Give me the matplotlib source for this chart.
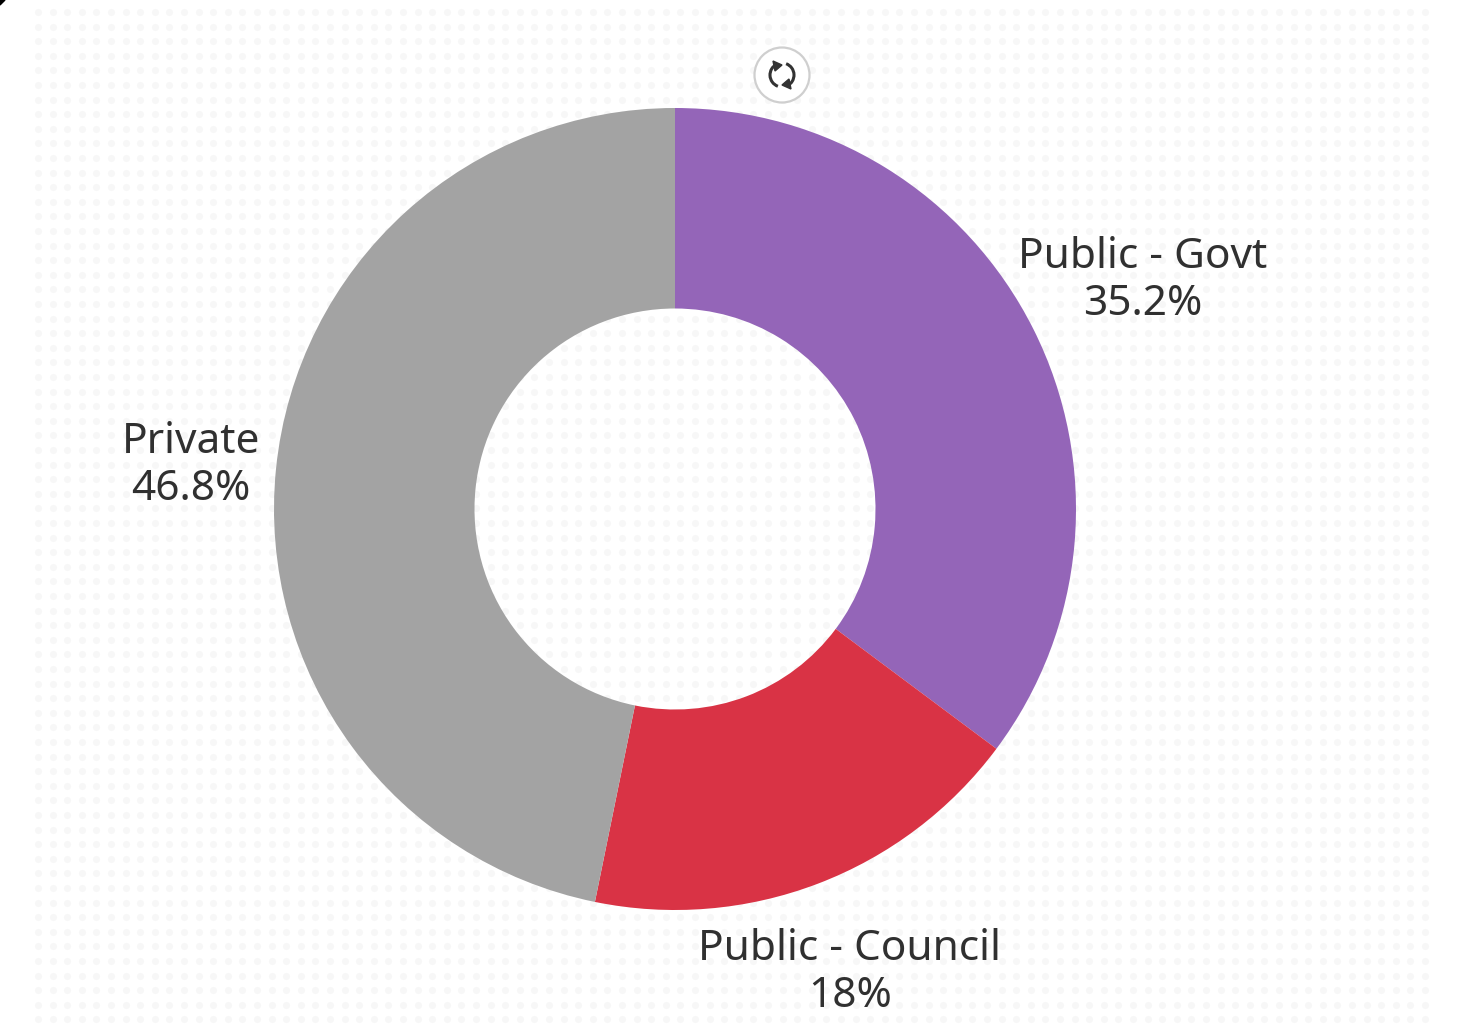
import matplotlib
matplotlib.use("Agg")
import matplotlib.pyplot as plt
from matplotlib.patches import Arc, Circle, Polygon
import numpy as np

W, H = 1457, 1033

segments = ["Public - Govt", "Public - Council", "Private"]
shares = [35.2, 18, 46.8]
share_labels = ["35.2%", "18%", "46.8%"]
colours = ["#9465B8", "#D93345", "#A3A3A3"]

plt.rcParams['font.family'] = ['Noto Sans', 'DejaVu Sans']

fig = plt.figure(figsize=(W / 100, H / 100), dpi=100, facecolor="white")

# calque en pixels pour le fond, le bouton et les textes
bg = fig.add_axes([0, 0, 1, 1], zorder=0)
bg.set_xlim(0, W)
bg.set_ylim(H, 0)
bg.axis("off")

# trame de points très pâle
gx, gy = np.meshgrid(np.arange(38, 1438, 14.6), np.arange(12, 1033, 14.6))
bg.scatter(gx.ravel(), gy.ravel(), s=26, color="#F7F7F7", linewidths=0, zorder=1)

# coin noir en haut à gauche
bg.add_patch(Polygon([(0, 0), (5, 0), (0, 5)], color="black", zorder=2))

# anneau
cx, cy, r = 675, 509, 401
ax = fig.add_axes([(cx - r) / W, 1 - (cy + r) / H, 2 * r / W, 2 * r / H], zorder=1)
ax.pie(shares, colors=colours, startangle=90, counterclock=False, radius=1,
       wedgeprops=dict(width=0.5, linewidth=0))
ax.set_xlim(-1, 1)
ax.set_ylim(-1, 1)
ax.set_aspect("equal")

# textes
top = fig.add_axes([0, 0, 1, 1], zorder=2)
top.set_xlim(0, W)
top.set_ylim(H, 0)
top.axis("off")
top.patch.set_alpha(0)

label_pos = [(1143, 280), (850, 972), (191, 465)]
for pos, seg, lab in zip(label_pos, segments, share_labels):
    top.text(pos[0], pos[1] - 23, seg, ha="center", va="center", fontsize=30.5, color="#303030")
    top.text(pos[0], pos[1] + 24, lab, ha="center", va="center", fontsize=30.5, color="#303030")

# bouton de rotation
bx, by = 782, 75
top.add_patch(Circle((bx, by), 27.5, facecolor="white", edgecolor="#CFCFCF", linewidth=1.6, zorder=3))
top.add_patch(Arc((bx, by), 24, 24, theta1=110, theta2=245, color="#333333", linewidth=2.2, zorder=4))
top.add_patch(Arc((bx, by), 24, 24, theta1=290, theta2=65, color="#333333", linewidth=2.2, zorder=4))
top.add_patch(Polygon([(bx - 9, by - 14), (bx + 0, by - 10), (bx - 7, by - 4)], color="#333333", zorder=4))
top.add_patch(Polygon([(bx + 9, by + 14), (bx + 0, by + 10), (bx + 7, by + 4)], color="#333333", zorder=4))

fig.savefig("out.png", dpi=100)
